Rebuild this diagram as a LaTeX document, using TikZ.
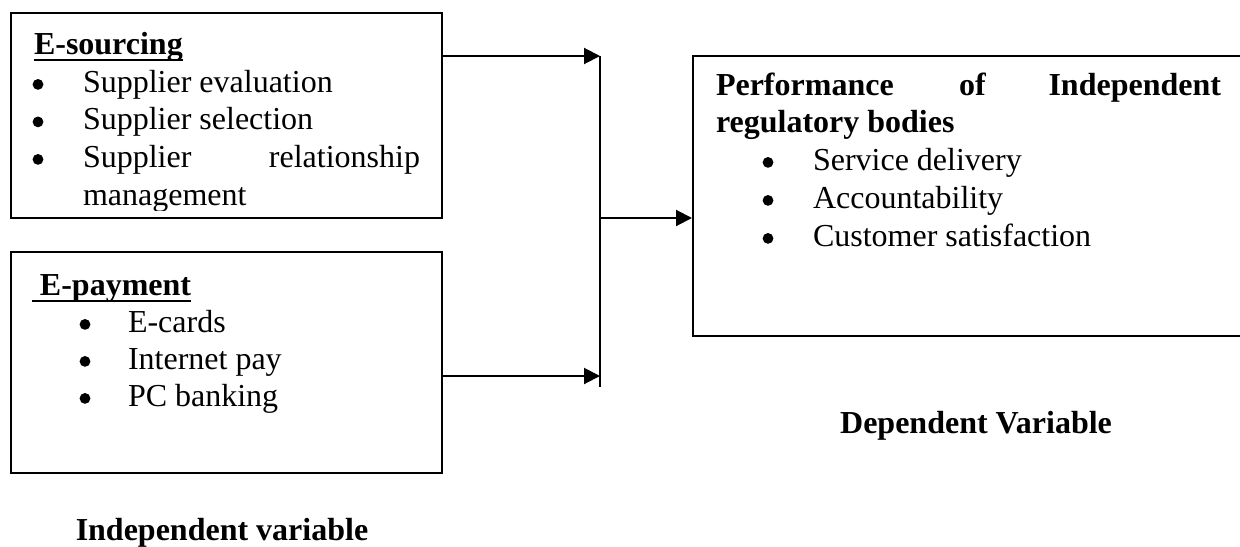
\documentclass[tikz,border=0pt]{standalone}
\usepackage{fontspec}
\setmainfont{Liberation Serif}
\usetikzlibrary{fit,arrows.meta}
\newcommand{\hdline}[1]{\setbox0\hbox{#1}\rlap{\rule[-3.5pt]{\wd0}{1pt}}\box0}
\begin{document}
\begin{tikzpicture}[x=0.5pt,y=-0.5pt,line width=1pt,font=\fontsize{16pt}{19pt}\selectfont,
	box/.style={draw,inner sep=0pt},
	txt/.style={inner sep=0pt,anchor=base west},
	txe/.style={inner sep=0pt,anchor=base east},
	hd/.style={txt,font=\fontsize{16pt}{19pt}\selectfont\bfseries},
	capt/.style={inner sep=0pt,anchor=base,font=\fontsize{16pt}{19pt}\selectfont\bfseries},
	dot/.style={circle,fill,inner sep=0pt,minimum size=5.4pt,yshift=3.8pt},
	arr/.style={-{Triangle[length=8pt,width=8pt]}}]
	\useasboundingbox (0,0) rectangle (1240,546);
	% boxes
	\node[box,fit={(11,13) (442,218)}] (esrc) {};
	\node[box,fit={(11,252) (442,473)}] (epay) {};
	\node[box,fit={(693,56) (1252,336)}] (perf) {};
	% E-sourcing
	\node[hd] (esrcT) at (33,54) {\hdline{E-sourcing}};
	\node[dot] (b11) at (38,92) {};
	\node[txt] (e1) at (82,92) {Supplier evaluation};
	\node[dot] (b12) at (38,129.5) {};
	\node[txt] (e2) at (82,129.5) {Supplier selection};
	\node[dot] (b13) at (38,167) {};
	\node[txt] (e3a) at (82,167) {Supplier};
	\node[txe] (e3b) at (421,167) {relationship};
	\begin{scope}
		\clip (11,13) rectangle (442,210);
		\node[txt] (e3c) at (82,205) {management};
	\end{scope}
	% E-payment
	\node[hd] (epayT) at (31,295) {\hdline{\ E-payment}};
	\node[dot] (b21) at (85,332) {};
	\node[txt] (p1) at (127,332) {E-cards};
	\node[dot] (b22) at (85,369) {};
	\node[txt] (p2) at (127,369) {Internet pay};
	\node[dot] (b23) at (85,406) {};
	\node[txt] (p3) at (127,406) {PC banking};
	% performance
	\node[hd] (pfT1) at (715,95) {Performance};
	\node[hd] (pfT2) at (958,95) {of};
	\node[txe,font=\fontsize{16pt}{19pt}\selectfont\bfseries] (pfT3) at (1222,95) {Independent};
	\node[hd] (pfT4) at (715,132) {regulatory bodies};
	\node[dot] (b31) at (768,170) {};
	\node[txt] (r1) at (812,170) {Service delivery};
	\node[dot] (b32) at (768,208) {};
	\node[txt] (r2) at (812,208) {Accountability};
	\node[dot] (b33) at (768,246) {};
	\node[txt] (r3) at (812,246) {Customer satisfaction};
	% captions
	\node[capt] (depV) at (976,433) {Dependent Variable};
	\node[capt] (indV) at (222,540) {Independent variable};
	% connectors
	\coordinate (busT) at (600,56);
	\coordinate (busM) at (600,218);
	\coordinate (busL) at (600,376);
	\coordinate (busB) at (600,387);
	\draw (busT) -- (busB);
	\draw[arr] (esrc.east |- busT) -- (busT);
	\draw[arr] (epay.east |- busL) -- (busL);
	\draw[arr] (busM) -- (busM -| perf.west);
\end{tikzpicture}
\end{document}
